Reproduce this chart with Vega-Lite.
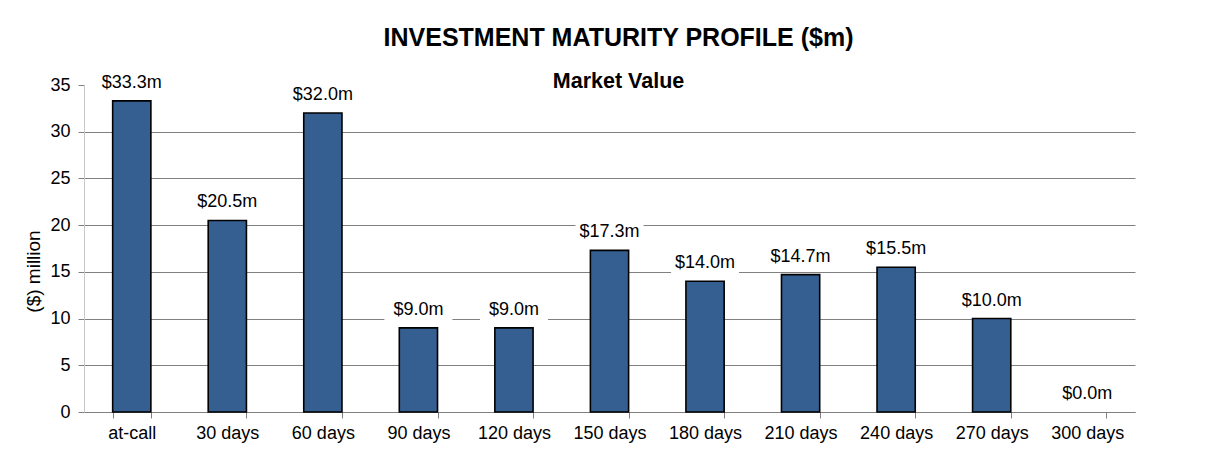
{
  "$schema": "https://vega.github.io/schema/vega-lite/v6.json",
  "width": 1051,
  "height": 327,
  "autosize": {"type": "none"},
  "padding": {"left": 84, "top": 85, "right": 70, "bottom": 56},
  "background": "white",
  "config": {
    "font": "Liberation Sans",
    "view": {"stroke": null},
    "locale": {"number": {"decimal": ".", "thousands": ",", "grouping": [3], "currency": ["$", "m"]}}
  },
  "title": {
    "text": "INVESTMENT MATURITY PROFILE ($m)",
    "subtitle": "Market Value",
    "font": "Liberation Sans",
    "subtitleFont": "Liberation Sans",
    "fontSize": 25,
    "fontWeight": "bold",
    "subtitleFontSize": 21.5,
    "subtitleFontWeight": "bold",
    "color": "#000000",
    "subtitleColor": "#000000",
    "subtitlePadding": 20,
    "anchor": "middle",
    "frame": "group",
    "offset": -22,
    "dx": 9
  },
  "data": {
    "values": [
      {"term": "at-call", "value": 33.3},
      {"term": "30 days", "value": 20.5},
      {"term": "60 days", "value": 32.0},
      {"term": "90 days", "value": 9.0},
      {"term": "120 days", "value": 9.0},
      {"term": "150 days", "value": 17.3},
      {"term": "180 days", "value": 14.0},
      {"term": "210 days", "value": 14.7},
      {"term": "240 days", "value": 15.5},
      {"term": "270 days", "value": 10.0},
      {"term": "300 days", "value": 0.0}
    ]
  },
  "encoding": {
    "x": {
      "field": "term",
      "type": "nominal",
      "sort": null,
      "scale": {"paddingInner": 0.6, "paddingOuter": 0.3},
      "axis": {
        "title": null,
        "labelAngle": 0,
        "labelFontSize": 18,
        "labelColor": "#000000",
        "labelPadding": 6,
        "tickBand": "extent",
        "tickSize": 6,
        "tickColor": "#808080",
        "domainColor": "#808080",
        "grid": false
      }
    },
    "y": {
      "field": "value",
      "type": "quantitative",
      "scale": {"domain": [0, 35], "nice": false},
      "axis": {
        "title": "($) million",
        "titleFontSize": 19,
        "titleFontWeight": "normal",
        "titleColor": "#000000",
        "titleX": -51,
        "titleY": 186,
        "titleAngle": -90,
        "titleBaseline": "middle",
        "values": [0, 5, 10, 15, 20, 25, 30, 35],
        "labelFontSize": 18,
        "labelColor": "#000000",
        "labelPadding": 8,
        "tickSize": 6,
        "tickColor": "#808080",
        "domainColor": "#c8c8c8",
        "grid": true,
        "gridColor": "#808080",
        "gridOpacity": {"condition": {"test": "datum.value >= 35", "value": 0}, "value": 1}
      }
    }
  },
  "layer": [
    {
      "mark": {"type": "bar", "color": "#365F91", "stroke": "#000000", "strokeWidth": 1.6},
      "encoding": {
        "strokeOpacity": {"condition": {"test": "datum.value == 0", "value": 0}, "value": 1}
      }
    },
    {
      "mark": {
        "type": "point",
        "shape": "M-1,-0.36H1V0.36H-1Z",
        "size": 4624,
        "filled": true,
        "color": "#ffffff",
        "opacity": 1,
        "strokeWidth": 0,
        "yOffset": -18
      }
    },
    {
      "mark": {"type": "text", "fontSize": 18, "color": "#000000", "baseline": "middle", "dy": -18},
      "encoding": {"text": {"field": "value", "type": "quantitative", "format": "$.1f"}}
    }
  ]
}
